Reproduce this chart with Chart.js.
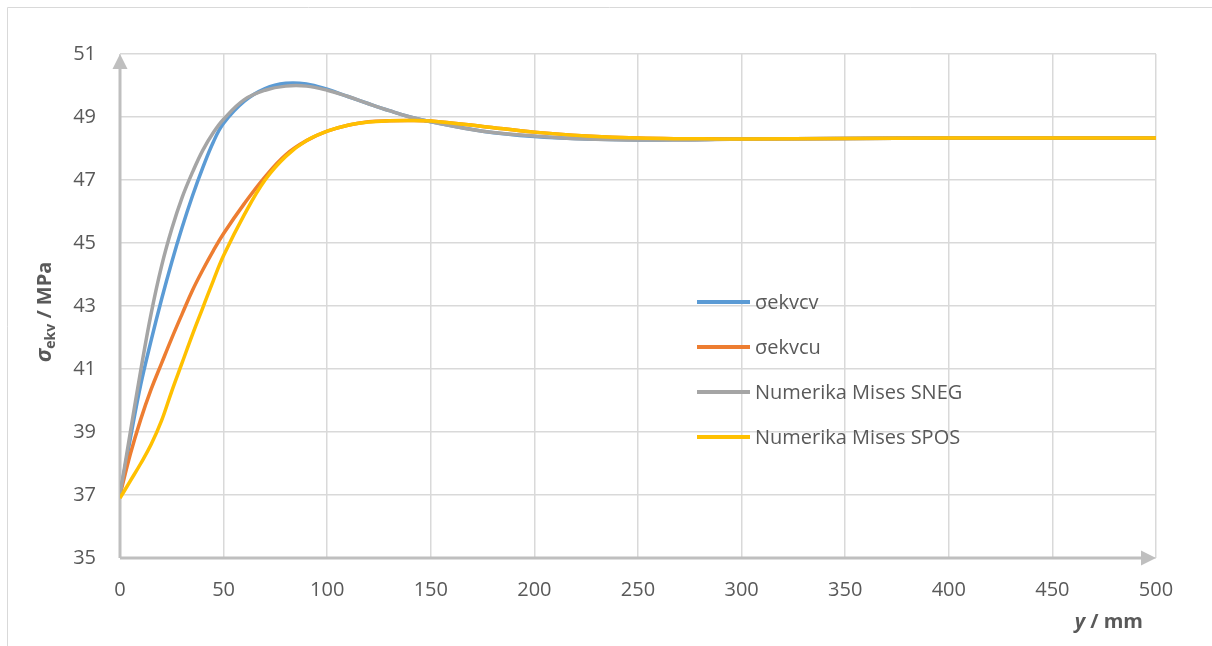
<!DOCTYPE html>
<html>
<head>
<meta charset="utf-8">
<script src="https://cdn.jsdelivr.net/npm/chart.js@4.4.1/dist/chart.umd.min.js"></script>
<style>
body { margin: 0; background: #fff; }
canvas { display: block; }
</style>
</head>
<body>
<canvas id="chart" width="1212" height="646"></canvas>
<script>
// y position along the part, mm
var yPos = [0, 5, 10, 15, 20, 25, 30, 35, 40, 45, 50, 60, 70, 80, 90, 100, 110, 120, 130, 140, 150, 175, 200, 225, 250, 275, 300, 350, 400, 450, 500];

// equivalent stress, MPa
var ekvcv = [37.0, 38.8, 40.5, 41.9, 43.2, 44.4, 45.5, 46.5, 47.4, 48.2, 48.8, 49.5, 49.9, 50.07, 50.05, 49.88, 49.65, 49.42, 49.2, 49.0, 48.85, 48.55, 48.38, 48.3, 48.27, 48.28, 48.3, 48.32, 48.33, 48.33, 48.33];
var ekvcu = [37.0, 38.3, 39.4, 40.35, 41.17, 41.98, 42.75, 43.5, 44.15, 44.75, 45.3, 46.25, 47.1, 47.8, 48.25, 48.55, 48.74, 48.85, 48.88, 48.89, 48.87, 48.7, 48.52, 48.4, 48.33, 48.31, 48.3, 48.32, 48.33, 48.33, 48.33];
var misesSneg = [37.0, 39.0, 40.95, 42.75, 44.25, 45.45, 46.45, 47.25, 47.95, 48.5, 48.93, 49.55, 49.85, 49.98, 49.98, 49.85, 49.65, 49.42, 49.2, 49.0, 48.85, 48.55, 48.4, 48.3, 48.27, 48.27, 48.3, 48.32, 48.33, 48.33, 48.33];
var misesSpos = [36.9, 37.45, 38.0, 38.6, 39.35, 40.3, 41.2, 42.1, 42.95, 43.8, 44.6, 45.9, 47.0, 47.75, 48.25, 48.55, 48.74, 48.84, 48.88, 48.89, 48.87, 48.7, 48.52, 48.4, 48.33, 48.31, 48.3, 48.32, 48.33, 48.33, 48.33];

var seriesNames = ["σekvcv", "σekvcu", "Numerika Mises SNEG", "Numerika Mises SPOS"];
var seriesColors = ["#5b9bd5", "#ed7d31", "#a5a5a5", "#ffc000"];

var textColor = "#595959";
var gridColor = "#d9d9d9";
var axisColor = "#bfbfbf";
var fontName = "'Open Sans', sans-serif";

function points(vals) {
    return vals.map((v, i) => ({x: yPos[i], y: v}));
}

var allSeries = [ekvcv, ekvcu, misesSneg, misesSpos];
var datasets = allSeries.map((s, i) => ({
    label: seriesNames[i],
    data: points(s),
    borderColor: seriesColors[i],
    borderWidth: 3.5,
    pointRadius: 0,
    fill: false,
    tension: 0.4,
    order: allSeries.length - i
}));

// frame, axis arrows, titles and the legend
var decorations = {
    id: 'decorations',
    beforeDraw(chart) {
        var ctx = chart.ctx;
        ctx.save();
        ctx.strokeStyle = gridColor;
        ctx.lineWidth = 1;
        ctx.beginPath();
        ctx.moveTo(7.5, 646);
        ctx.lineTo(7.5, 7.5);
        ctx.lineTo(1212, 7.5);
        ctx.stroke();
        ctx.restore();
    },
    beforeDatasetsDraw(chart) {
        var ctx = chart.ctx, a = chart.chartArea;
        ctx.save();
        ctx.strokeStyle = axisColor;
        ctx.fillStyle = axisColor;
        ctx.lineWidth = 3;
        ctx.beginPath();
        ctx.moveTo(a.left, a.bottom);
        ctx.lineTo(a.left, a.top + 12);
        ctx.moveTo(a.left, a.bottom);
        ctx.lineTo(a.right - 12, a.bottom);
        ctx.stroke();
        ctx.beginPath();
        ctx.moveTo(a.left, a.top);
        ctx.lineTo(a.left - 7.5, a.top + 15);
        ctx.lineTo(a.left + 7.5, a.top + 15);
        ctx.closePath();
        ctx.fill();
        ctx.beginPath();
        ctx.moveTo(a.right, a.bottom);
        ctx.lineTo(a.right - 15, a.bottom - 7.5);
        ctx.lineTo(a.right - 15, a.bottom + 7.5);
        ctx.closePath();
        ctx.fill();
        ctx.restore();
    },
    afterDraw(chart) {
        var ctx = chart.ctx;
        ctx.save();
        ctx.fillStyle = textColor;
        ctx.textBaseline = 'middle';

        // y title: sigma_ekv / MPa
        var f1 = "italic bold 22px " + fontName;
        var f2 = "bold 14px " + fontName;
        var f3 = "bold 20px " + fontName;
        ctx.font = f1; var w1 = ctx.measureText("σ").width;
        ctx.font = f2; var w2 = ctx.measureText("ekv").width;
        ctx.font = f3; var w3 = ctx.measureText(" / MPa").width;
        var tot = w1 + w2 + w3;
        ctx.translate(45, 312);
        ctx.rotate(-Math.PI / 2);
        var x = -tot / 2;
        ctx.textAlign = 'left';
        ctx.font = f1; ctx.fillText("σ", x, 0); x += w1;
        ctx.font = f2; ctx.fillText("ekv", x, 6); x += w2;
        ctx.font = f3; ctx.fillText(" / MPa", x, 0);
        ctx.setTransform(1, 0, 0, 1, 0, 0);

        // x title: y / mm
        var g1 = "italic bold 20px " + fontName;
        ctx.font = f3; var v2 = ctx.measureText(" / mm").width;
        ctx.textAlign = 'right';
        ctx.fillText(" / mm", 1143, 622);
        ctx.font = g1;
        ctx.fillText("y", 1143 - v2, 622);

        // legend
        ctx.textAlign = 'left';
        ctx.font = "20px " + fontName;
        chart.data.datasets.forEach((ds, i) => {
            var yy = 302 + i * 45;
            ctx.strokeStyle = ds.borderColor;
            ctx.lineWidth = 4;
            ctx.beginPath();
            ctx.moveTo(697, yy);
            ctx.lineTo(750, yy);
            ctx.stroke();
            ctx.fillStyle = textColor;
            ctx.fillText(ds.label, 755, yy + 1);
        });
        ctx.restore();
    }
};

var chart = new Chart(document.getElementById("chart"), {
    type: 'line',
    data: { datasets: datasets },
    options: {
        responsive: false,
        animation: false,
        layout: { padding: { top: 54, right: 56, left: 0, bottom: 0 } },
        plugins: {
            legend: { display: false },
            tooltip: { enabled: false }
        },
        scales: {
            x: {
                type: 'linear',
                min: 0,
                max: 500,
                ticks: {
                    stepSize: 50,
                    padding: 20,
                    color: textColor,
                    font: { family: fontName, size: 20 },
                    maxRotation: 0
                },
                grid: { color: gridColor, lineWidth: 1.5, drawTicks: false },
                border: { display: false },
                afterFit: (s) => { s.height = 88; }
            },
            y: {
                min: 35,
                max: 51,
                ticks: {
                    stepSize: 2,
                    padding: 24,
                    color: textColor,
                    font: { family: fontName, size: 20 }
                },
                grid: { color: gridColor, lineWidth: 1.5, drawTicks: false },
                border: { display: false },
                afterFit: (s) => { s.width = 120; }
            }
        }
    },
    plugins: [decorations]
});
</script>
</body>
</html>
